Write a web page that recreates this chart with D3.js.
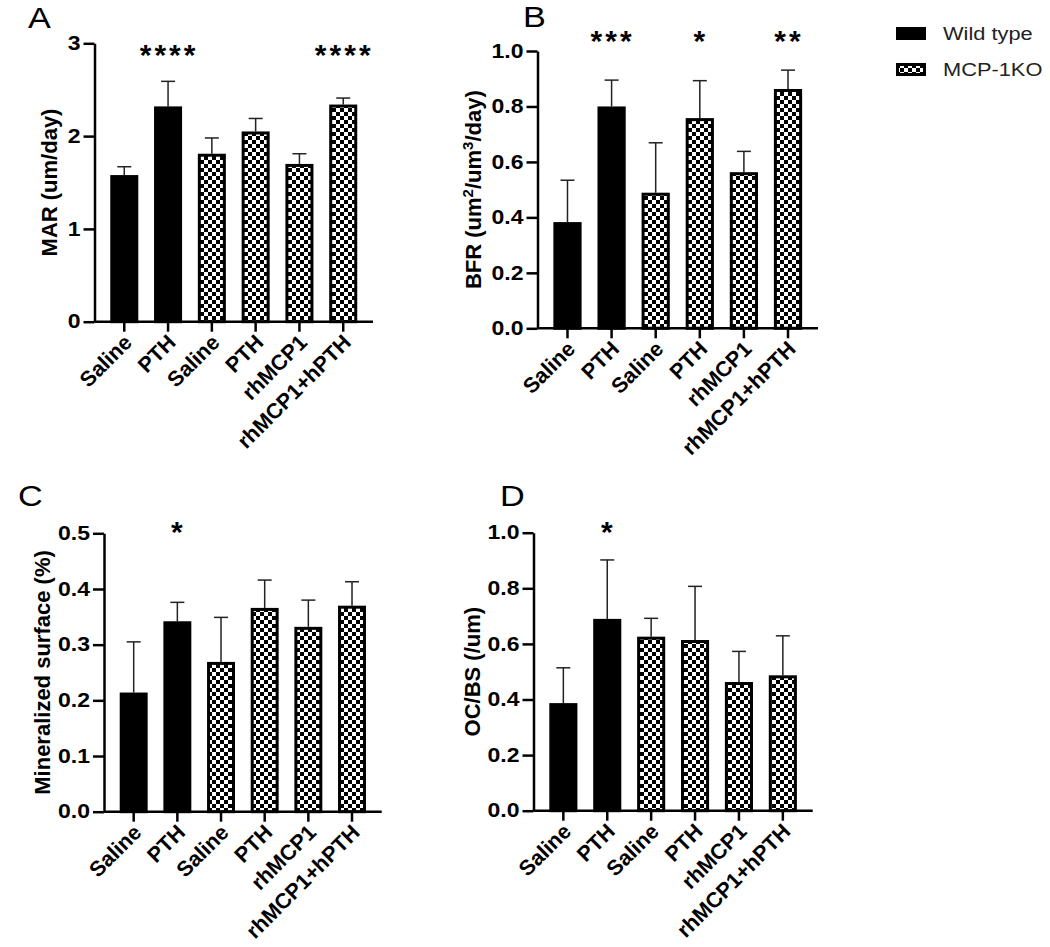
<!DOCTYPE html>
<html><head><meta charset="utf-8">
<script src="https://cdn.jsdelivr.net/npm/d3@7"></script>
<style>
html,body{margin:0;padding:0;background:#fff;}
svg{display:block;font-family:"Liberation Sans",Arial,sans-serif;}
</style></head>
<body>
<svg id="chart" width="1050" height="947"></svg>
<script>
// ---------- data ----------
const categories = ["Saline","PTH","Saline","PTH","rhMCP1","rhMCP1+hPTH"];
const genotype = ["WT","WT","KO","KO","KO","KO"];
const seriesNames = ["Wild type","MCP-1KO"];

const marMean = [1.58, 2.32, 1.81, 2.05, 1.70, 2.34];
const marErr  = [0.09, 0.27, 0.17, 0.14, 0.11, 0.07];
const marStars = ["","****","","","","****"];
const marTicks = [0,1,2,3];

const bfrMean = [0.383, 0.800, 0.489, 0.758, 0.563, 0.863];
const bfrErr  = [0.151, 0.095, 0.180, 0.135, 0.075, 0.068];
const bfrStars = ["","***","","*","","**"];
const bfrTicks = [0,0.2,0.4,0.6,0.8,1.0];

const msMean = [0.214, 0.342, 0.269, 0.366, 0.332, 0.370];
const msErr  = [0.091, 0.034, 0.080, 0.050, 0.048, 0.043];
const msStars = ["","*","","","",""];
const msTicks = [0,0.1,0.2,0.3,0.4,0.5];

const ocMean = [0.387, 0.690, 0.626, 0.614, 0.463, 0.487];
const ocErr  = [0.127, 0.212, 0.066, 0.193, 0.110, 0.142];
const ocStars = ["","*","","","",""];
const ocTicks = [0,0.2,0.4,0.6,0.8,1.0];

// ---------- layout ----------
const SX = 1.18; // horizontal text stretch seen in the reference
const panels = [
  {letter:"A", mean:marMean, err:marErr, stars:marStars, ticks:marTicks, fmt:d3.format("d"),
   x0:94.5, x1:373, yTop:43.3, yBot:321.7, lx:28, ly:28, labX:49, starY:65,
   title:[{t:"MAR (um/day)"}]},
  {letter:"B", mean:bfrMean, err:bfrErr, stars:bfrStars, ticks:bfrTicks, fmt:d3.format(".1f"),
   x0:537.5, x1:818, yTop:51, yBot:328.3, lx:523, ly:27, labX:473, starY:51,
   title:[{t:"BFR (um"},{t:"2",sup:true},{t:"/um"},{t:"3",sup:true},{t:"/day)"}]},
  {letter:"C", mean:msMean, err:msErr, stars:msStars, ticks:msTicks, fmt:d3.format(".1f"),
   x0:104, x1:381.7, yTop:533.3, yBot:811.7, lx:18, ly:506, labX:42, starY:542,
   title:[{t:"Mineralized surface (%)"}]},
  {letter:"D", mean:ocMean, err:ocErr, stars:ocStars, ticks:ocTicks, fmt:d3.format(".1f"),
   x0:533.5, x1:812.7, yTop:532.7, yBot:810.7, lx:500, ly:506, labX:472, starY:542,
   title:[{t:"OC/BS (/um)"}]}
];

const svg = d3.select("#chart");
const defs = svg.append("defs");
const pat = defs.append("pattern").attr("id","checker")
  .attr("patternUnits","userSpaceOnUse").attr("width",8).attr("height",8);
pat.append("rect").attr("width",8).attr("height",8).attr("fill","#fff");
pat.append("rect").attr("x",0).attr("y",0).attr("width",4).attr("height",4).attr("fill","#000");
pat.append("rect").attr("x",4).attr("y",4).attr("width",4).attr("height",4).attr("fill","#000");

panels.forEach(p => {
  const g = svg.append("g");
  const ymax = p.ticks[p.ticks.length-1];
  const y = d3.scaleLinear().domain([0, ymax]).range([p.yBot, p.yTop]);
  const x = d3.scaleBand().domain(d3.range(categories.length)).range([p.x0, p.x1]).padding(0.36);

  const rows = categories.map((c,i)=>({i, c, g:genotype[i], m:p.mean[i], e:p.err[i], s:p.stars[i]}));
  // error bars
  g.selectAll(".eb").data(rows).enter().append("line")
    .attr("x1",d=>x(d.i)+x.bandwidth()/2).attr("x2",d=>x(d.i)+x.bandwidth()/2)
    .attr("y1",d=>y(d.m)).attr("y2",d=>y(d.m+d.e))
    .attr("stroke","#222").attr("stroke-width",1.5);
  g.selectAll(".cap").data(rows).enter().append("line")
    .attr("x1",d=>x(d.i)+x.bandwidth()/2-7).attr("x2",d=>x(d.i)+x.bandwidth()/2+7)
    .attr("y1",d=>y(d.m+d.e)).attr("y2",d=>y(d.m+d.e))
    .attr("stroke","#222").attr("stroke-width",1.5);
  // bars
  g.selectAll(".bar").data(rows).enter().append("rect")
    .attr("x",d=>x(d.i)+1.5).attr("width",x.bandwidth()-3)
    .attr("y",d=>y(d.m)+1.5).attr("height",d=>Math.max(0,y(0)-y(d.m)-1.5))
    .attr("fill",d=>d.g==="WT"?"#000":"url(#checker)")
    .attr("stroke","#000").attr("stroke-width",3);

  // y axis
  const ya = g.append("g").attr("transform",`translate(${p.x0},0)`)
    .call(d3.axisLeft(y).tickValues(p.ticks).tickFormat(p.fmt).tickSize(11).tickSizeOuter(0).tickPadding(3));
  ya.select(".domain").attr("stroke","#000").attr("stroke-width",2.5);
  ya.selectAll(".tick line").attr("stroke","#000").attr("stroke-width",2.5);
  ya.selectAll(".tick text").attr("font-family","Liberation Sans, Arial, sans-serif")
    .attr("font-size",19.5).attr("font-weight","bold").attr("fill","#000")
    .attr("x",0).attr("transform",`translate(-14,0) scale(${SX},1)`);

  // x axis
  const xa = g.append("g").attr("transform",`translate(0,${p.yBot})`)
    .call(d3.axisBottom(x).tickFormat(i=>categories[i]).tickSize(10).tickSizeOuter(0).tickPadding(2));
  xa.select(".domain").attr("d",`M${p.x0},0H${p.x1}`).attr("stroke","#000").attr("stroke-width",2.5);
  xa.selectAll(".tick line").attr("stroke","#000").attr("stroke-width",2.5);
  xa.selectAll(".tick text").attr("font-family","Liberation Sans, Arial, sans-serif")
    .attr("font-size",21.5).attr("font-weight","bold").attr("fill","#000")
    .attr("text-anchor","end").attr("dy",null).attr("y",null)
    .attr("transform","translate(9,22) rotate(-45)");

  // stars
  g.selectAll(".star").data(rows.filter(d=>d.s)).enter().append("text")
    .attr("x",d=>x(d.i)+x.bandwidth()/2+1).attr("y",p.starY)
    .attr("text-anchor","middle").attr("font-size",30).attr("font-weight","bold")
    .attr("letter-spacing",3)
    .text(d=>d.s);

  // y title
  const t = g.append("text")
    .attr("transform",`translate(${p.labX},${(p.yTop+p.yBot)/2}) rotate(-90)`)
    .attr("text-anchor","middle").attr("dy","0.35em")
    .attr("font-size",22).attr("font-weight","bold").attr("fill","#000");
  p.title.forEach(s=>{
    const ts = t.append("tspan").text(s.t);
    if (s.sup) ts.attr("baseline-shift","super").attr("font-size",15);
  });

  // panel letter
  svg.append("text").attr("transform",`translate(${p.lx},${p.ly}) scale(${SX},1)`)
    .attr("font-size",29).attr("font-weight","normal").text(p.letter);
});

// legend
const leg = svg.append("g");
const legY = [27, 63];
seriesNames.forEach((s,i)=>{
  leg.append("rect").attr("x",897.5).attr("y",legY[i]+1.5).attr("width",27).attr("height",10)
    .attr("fill",i===0?"#000":"url(#checker)").attr("stroke","#000").attr("stroke-width",3);
  leg.append("text").attr("transform",`translate(943,${legY[i]+12.5}) scale(${SX},1)`)
    .attr("font-size",18.5).attr("fill","#222").text(s);
});
</script>
</body></html>
